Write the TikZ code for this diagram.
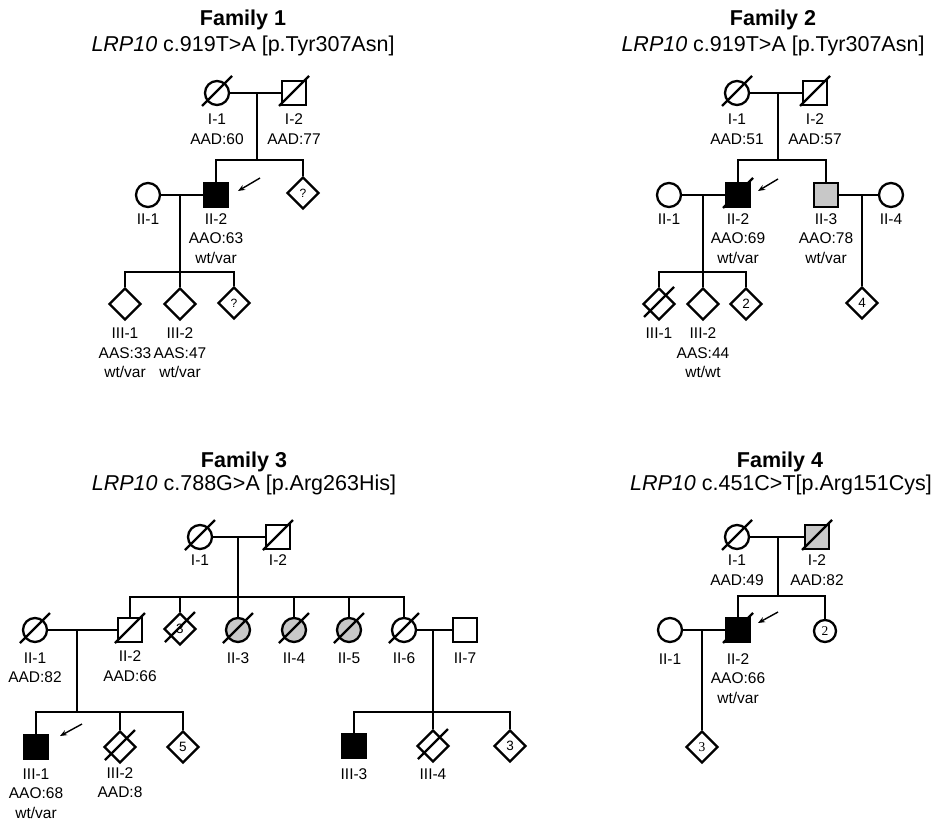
\documentclass[tikz,border=0pt]{standalone}
\usepackage{fontspec}
\setmainfont{Liberation Sans}
\newfontfamily\numserif{Liberation Serif}
\usetikzlibrary{positioning}
\usetikzlibrary{shapes.geometric}
\usetikzlibrary{arrows.meta}
\definecolor{affgray}{RGB}{200,200,200}

\begin{document}
\begin{tikzpicture}[
		x=1pt, y=-1pt,
		line width=2.3pt,
		male/.style={rectangle, draw, minimum size=24pt, inner sep=0pt},
		female/.style={circle, draw, minimum size=24pt, inner sep=0pt},
		sexunk/.style={diamond, draw, minimum size=32pt, inner sep=0pt, font=\fontsize{13.5}{15}\selectfont},
		affected/.style={fill=black},
		partial/.style={fill=affgray},
		deceased/.style={append after command={([shift={(-15pt,-13pt)}]\tikzlastnode.center) edge ([shift={(15pt,17pt)}]\tikzlastnode.center)}},
		idlbl/.style={anchor=north, align=center, inner sep=0pt, font=\fontsize{15.5}{19.5}\selectfont},
		famtitle/.style={anchor=base, inner sep=0pt, font=\fontsize{21.5}{24}\selectfont\bfseries},
		varlbl/.style={anchor=base, inner sep=0pt, font=\fontsize{21.5}{24}\selectfont},
		proband/.style={-{Stealth[length=7pt, width=5.5pt]}, line width=1.4pt}
	]
		\useasboundingbox (0,0) rectangle (942,822);
		
		% Family 1
		\node[famtitle] (F1t) at (243,25) {Family 1};
		\node[varlbl] (F1v) at (243,51) {\textit{LRP10} c.919T>A [p.Tyr307Asn]};
		
		\node[female, deceased] (F1I1) at (217,93) {};
		\node[male, deceased] (F1I2) at (294,93) {};
		\node[female] (F1II1) at (148,195) {};
		\node[male, affected] (F1II2) at (216,195) {};
		\node[sexunk, font=\fontsize{12}{14}\selectfont] (F1II3) at (303,193) {?};
		\node[sexunk] (F1III1) at (125,304) {};
		\node[sexunk] (F1III2) at (180,304) {};
		\node[sexunk, font=\fontsize{12}{14}\selectfont] (F1III3) at (234,303) {?};
		
		\coordinate (F1m1) at (257,93);
		\coordinate (F1s1) at (257,160);
		\coordinate (F1m2) at (180,195);
		\coordinate (F1s2) at (180,272);
		
		\draw (F1I1) -- (F1I2);
		\draw (F1m1) -- (F1s1);
		\draw (F1II2.north) |- (F1s1) -| (F1II3.north);
		\draw (F1II1) -- (F1II2);
		\draw (F1m2) -- (F1s2);
		\draw (F1III1.north) |- (F1s2) -| (F1III3.north);
		\draw (F1s2) -- (F1III2.north);
		
		\node[idlbl] (F1I1l) at ([yshift=-20pt]F1I1.center) {I-1\\AAD:60};
		\node[idlbl] (F1I2l) at ([yshift=-20pt]F1I2.center) {I-2\\AAD:77};
		\node[idlbl] (F1II1l) at ([yshift=-17.5pt]F1II1.center) {II-1};
		\node[idlbl] (F1II2l) at ([yshift=-17.5pt]F1II2.center) {II-2\\AAO:63\\wt/var};
		\node[idlbl] (F1III1l) at ([yshift=-23pt]F1III1.center) {III-1\\AAS:33\\wt/var};
		\node[idlbl] (F1III2l) at ([yshift=-23pt]F1III2.center) {III-2\\AAS:47\\wt/var};
		
		\coordinate (F1pa) at (260,178);
		\coordinate (F1pb) at (238,191);
		\draw[proband] (F1pa) -- (F1pb);
		
		% Family 2
		\node[famtitle] (F2t) at (773,25) {Family 2};
		\node[varlbl] (F2v) at (773,51) {\textit{LRP10} c.919T>A [p.Tyr307Asn]};
		
		\node[female, deceased] (F2I1) at (737,93) {};
		\node[male, deceased] (F2I2) at (815,93) {};
		\node[female] (F2II1) at (669,195) {};
		\node[male, affected, deceased] (F2II2) at (738,195) {};
		\node[male, partial] (F2II3) at (826,195) {};
		\node[female] (F2II4) at (891,195) {};
		\node[sexunk, deceased] (F2III1) at (659,304) {};
		\node[sexunk] (F2III2) at (703,304) {};
		\node[sexunk] (F2III3) at (746,304) {2};
		\node[sexunk] (F2III4) at (862,303) {4};
		
		\coordinate (F2m1) at (778,93);
		\coordinate (F2s1) at (778,160);
		\coordinate (F2m2) at (703,195);
		\coordinate (F2s2) at (703,272);
		\coordinate (F2m3) at (862,195);
		
		\draw (F2I1) -- (F2I2);
		\draw (F2m1) -- (F2s1);
		\draw (F2II2.north) |- (F2s1) -| (F2II3.north);
		\draw (F2II1) -- (F2II2);
		\draw (F2m2) -- (F2s2);
		\draw (F2III1.north) |- (F2s2) -| (F2III3.north);
		\draw (F2s2) -- (F2III2.north);
		\draw (F2II3) -- (F2II4);
		\draw (F2m3) -- (F2III4.north);
		
		\node[idlbl] (F2I1l) at ([yshift=-20pt]F2I1.center) {I-1\\AAD:51};
		\node[idlbl] (F2I2l) at ([yshift=-20pt]F2I2.center) {I-2\\AAD:57};
		\node[idlbl] (F2II1l) at ([yshift=-17.5pt]F2II1.center) {II-1};
		\node[idlbl] (F2II2l) at ([yshift=-17.5pt]F2II2.center) {II-2\\AAO:69\\wt/var};
		\node[idlbl] (F2II3l) at ([yshift=-17.5pt]F2II3.center) {II-3\\AAO:78\\wt/var};
		\node[idlbl] (F2II4l) at ([yshift=-17.5pt]F2II4.center) {II-4};
		\node[idlbl] (F2III1l) at ([yshift=-23pt]F2III1.center) {III-1};
		\node[idlbl] (F2III2l) at ([yshift=-23pt]F2III2.center) {III-2\\AAS:44\\wt/wt};
		
		\coordinate (F2pa) at (778,179);
		\coordinate (F2pb) at (758,191);
		\draw[proband] (F2pa) -- (F2pb);
		
		% Family 3
		\node[famtitle] (F3t) at (244,467) {Family 3};
		\node[varlbl] (F3v) at (244,490) {\textit{LRP10} c.788G>A [p.Arg263His]};
		
		\node[female, deceased] (F3I1) at (200,537) {};
		\node[male, deceased] (F3I2) at (278,537) {};
		\node[female, deceased] (F3II1) at (35,630) {};
		\node[male, deceased] (F3II2) at (130,630) {};
		\node[sexunk, deceased] (F3IIu) at (180,629) {3};
		\node[female, partial, deceased] (F3II3) at (238,630) {};
		\node[female, partial, deceased] (F3II4) at (294,630) {};
		\node[female, partial, deceased] (F3II5) at (349,630) {};
		\node[female, deceased] (F3II6) at (404,630) {};
		\node[male] (F3II7) at (465,630) {};
		\node[male, affected] (F3III1) at (36,747) {};
		\node[sexunk, deceased] (F3III2) at (120,747) {};
		\node[sexunk] (F3IIIu) at (183,747) {5};
		\node[male, affected] (F3III3) at (354,746) {};
		\node[sexunk, deceased] (F3III4) at (433,746) {};
		\node[sexunk] (F3IIIv) at (510,746) {3};
		
		\coordinate (F3m1) at (238,537);
		\coordinate (F3s1) at (238,597);
		\coordinate (F3m2) at (77,630);
		\coordinate (F3s2) at (77,712);
		\coordinate (F3m3) at (433,630);
		\coordinate (F3s3) at (433,712);
		
		\draw (F3I1) -- (F3I2);
		\draw (F3m1) -- (F3s1);
		\draw (F3II2.north) |- (F3s1) -| (F3II6.north);
		\draw (F3IIu.north) -- (F3IIu.north |- F3s1);
		\draw (F3II3.north) -- (F3II3.north |- F3s1);
		\draw (F3II4.north) -- (F3II4.north |- F3s1);
		\draw (F3II5.north) -- (F3II5.north |- F3s1);
		\draw (F3II1) -- (F3II2);
		\draw (F3m2) -- (F3s2);
		\draw (F3III1.north) |- (F3s2) -| (F3IIIu.north);
		\draw (F3III2.north) -- (F3III2.north |- F3s2);
		\draw (F3II6) -- (F3II7);
		\draw (F3m3) -- (F3s3);
		\draw (F3III3.north) |- (F3s3) -| (F3IIIv.north);
		\draw (F3s3) -- (F3III4.north);
		
		\node[idlbl] (F3I1l) at ([yshift=-17pt]F3I1.center) {I-1};
		\node[idlbl] (F3I2l) at ([yshift=-17pt]F3I2.center) {I-2};
		\node[idlbl] (F3II1l) at ([yshift=-21.5pt]F3II1.center) {II-1\\AAD:82};
		\node[idlbl] (F3II2l) at ([yshift=-20pt]F3II2.center) {II-2\\AAD:66};
		\node[idlbl] (F3II3l) at ([yshift=-21.5pt]F3II3.center) {II-3};
		\node[idlbl] (F3II4l) at ([yshift=-21.5pt]F3II4.center) {II-4};
		\node[idlbl] (F3II5l) at ([yshift=-21.5pt]F3II5.center) {II-5};
		\node[idlbl] (F3II6l) at ([yshift=-21.5pt]F3II6.center) {II-6};
		\node[idlbl] (F3II7l) at ([yshift=-21.5pt]F3II7.center) {II-7};
		\node[idlbl] (F3III1l) at ([yshift=-20.5pt]F3III1.center) {III-1\\AAO:68\\wt/var};
		\node[idlbl] (F3III2l) at ([yshift=-19.5pt]F3III2.center) {III-2\\AAD:8};
		\node[idlbl] (F3III3l) at ([yshift=-21.5pt]F3III3.center) {III-3};
		\node[idlbl] (F3III4l) at ([yshift=-21.5pt]F3III4.center) {III-4};
		
		\coordinate (F3pa) at (82,724);
		\coordinate (F3pb) at (60,736);
		\draw[proband] (F3pa) -- (F3pb);
		
		% Family 4
		\node[famtitle] (F4t) at (780,467) {Family 4};
		\node[varlbl] (F4v) at (781,490) {\textit{LRP10} c.451C>T[p.Arg151Cys]};
		
		\node[female, deceased] (F4I1) at (737,537) {};
		\node[male, partial, deceased] (F4I2) at (817,537) {};
		\node[female] (F4II1) at (670,630) {};
		\node[male, affected, deceased] (F4II2) at (738,630) {};
		\node[female, minimum size=22pt, font=\numserif\fontsize{13.5}{15}\selectfont] (F4IIu) at (825,631) {2};
		\node[sexunk, font=\numserif\fontsize{13.5}{15}\selectfont] (F4III) at (702,747) {3};
		
		\coordinate (F4m1) at (778,537);
		\coordinate (F4s1) at (778,596);
		\coordinate (F4m2) at (702,630);
		
		\draw (F4I1) -- (F4I2);
		\draw (F4m1) -- (F4s1);
		\draw (F4II2.north) |- (F4s1) -| (F4IIu.north);
		\draw (F4II1) -- (F4II2);
		\draw (F4m2) -- (F4III.north);
		
		\node[idlbl] (F4I1l) at ([yshift=-17pt]F4I1.center) {I-1\\AAD:49};
		\node[idlbl] (F4I2l) at ([yshift=-17pt]F4I2.center) {I-2\\AAD:82};
		\node[idlbl] (F4II1l) at ([yshift=-22.5pt]F4II1.center) {II-1};
		\node[idlbl] (F4II2l) at ([yshift=-22.5pt]F4II2.center) {II-2\\AAO:66\\wt/var};
		
		\coordinate (F4pa) at (778,612);
		\coordinate (F4pb) at (758,623);
		\draw[proband] (F4pa) -- (F4pb);
	\end{tikzpicture}
\end{document}
